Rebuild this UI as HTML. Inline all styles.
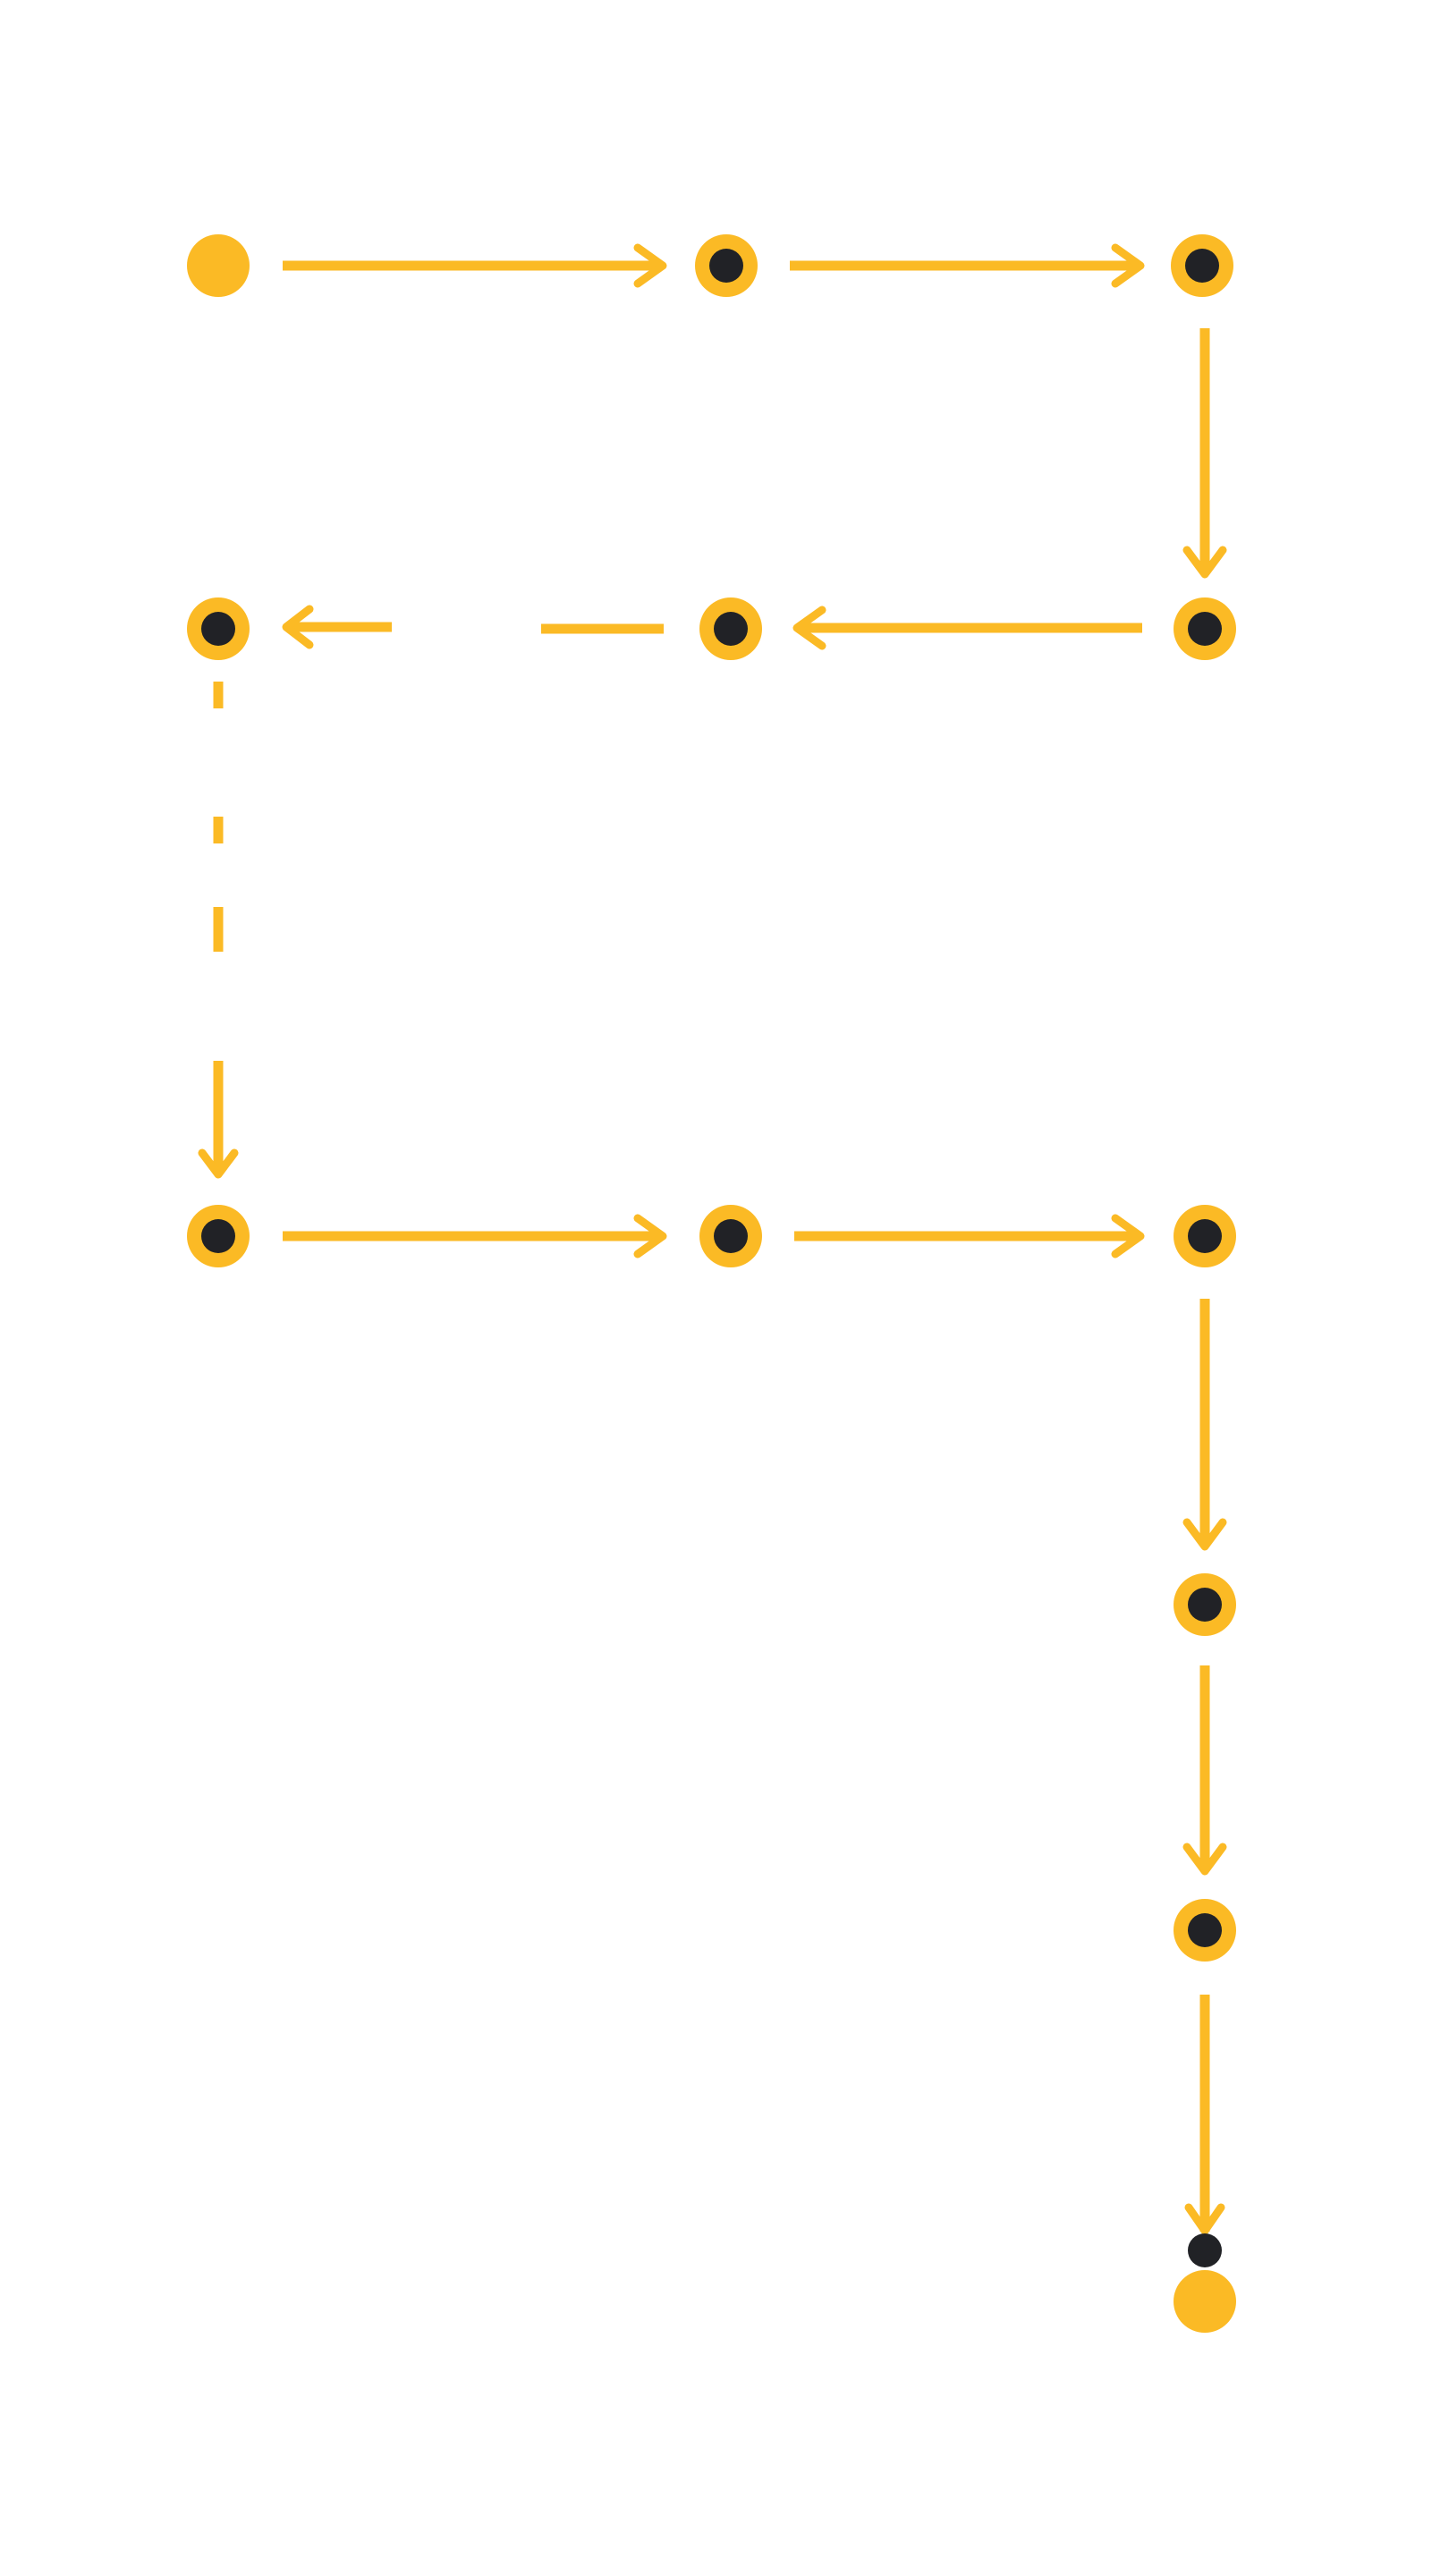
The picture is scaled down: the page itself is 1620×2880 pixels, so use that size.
<!DOCTYPE html>
<html><head><style>html,body{margin:0;padding:0;background:#fff;}svg{display:block}</style></head>
<body>
<svg width="1620" height="2880" viewBox="0 0 1620 2880" xmlns="http://www.w3.org/2000/svg">
<g transform="translate(2,2)">
<g stroke="#FBBA25" stroke-width="11" fill="none">
<line x1="314" y1="295" x2="736" y2="295"/>
<line x1="881" y1="295" x2="1268" y2="295"/>
<line x1="1345" y1="365" x2="1345" y2="638"/>
<line x1="1275" y1="700" x2="893" y2="700"/>
<line x1="603" y1="701" x2="740" y2="701"/>
<line x1="436" y1="699" x2="321" y2="699"/>
<line x1="242" y1="760" x2="242" y2="790"/>
<line x1="242" y1="911" x2="242" y2="941"/>
<line x1="242" y1="1012" x2="242" y2="1062"/>
<line x1="242" y1="1184" x2="242" y2="1309"/>
<line x1="314" y1="1380" x2="736" y2="1380"/>
<line x1="886" y1="1380" x2="1268" y2="1380"/>
<line x1="1345" y1="1450" x2="1345" y2="1723"/>
<line x1="1345" y1="1860" x2="1345" y2="2084"/>
<line x1="1345" y1="2228" x2="1345" y2="2493"/>
</g>
<g stroke="#FBBA25" stroke-width="9" fill="none" stroke-linecap="round" stroke-linejoin="round">
<polyline points="711,275 739,295 711,315"/>
<polyline points="1245,275 1273,295 1245,315"/>
<polyline points="1325,613 1345,640 1365,613"/>
<polyline points="917,680 889,700 917,720"/>
<polyline points="344,679 318,699 344,719"/>
<polyline points="224,1287 242,1311 260,1287"/>
<polyline points="711,1360 739,1380 711,1400"/>
<polyline points="1245,1360 1273,1380 1245,1400"/>
<polyline points="1325,1700 1345,1727 1365,1700"/>
<polyline points="1325,2063 1345,2090 1365,2063"/>
<polyline points="1327,2466 1345,2492 1363,2466"/>
</g>
<g fill="#FBBA25">
<circle cx="242" cy="295" r="35"/>
<circle cx="810" cy="295" r="35"/>
<circle cx="1342" cy="295" r="35"/>
<circle cx="242" cy="701" r="35"/>
<circle cx="815" cy="701" r="35"/>
<circle cx="1345" cy="701" r="35"/>
<circle cx="242" cy="1380" r="35"/>
<circle cx="815" cy="1380" r="35"/>
<circle cx="1345" cy="1380" r="35"/>
<circle cx="1345" cy="1792" r="35"/>
<circle cx="1345" cy="2156" r="35"/>
<circle cx="1345" cy="2571" r="35"/>
</g>
<g fill="#212226">
<circle cx="810" cy="295" r="19"/>
<circle cx="1342" cy="295" r="19"/>
<circle cx="242" cy="701" r="19"/>
<circle cx="815" cy="701" r="19"/>
<circle cx="1345" cy="701" r="19"/>
<circle cx="242" cy="1380" r="19"/>
<circle cx="815" cy="1380" r="19"/>
<circle cx="1345" cy="1380" r="19"/>
<circle cx="1345" cy="1792" r="19"/>
<circle cx="1345" cy="2156" r="19"/>
<circle cx="1345" cy="2514" r="19"/>
</g>
</g>
</svg>
</body></html>
